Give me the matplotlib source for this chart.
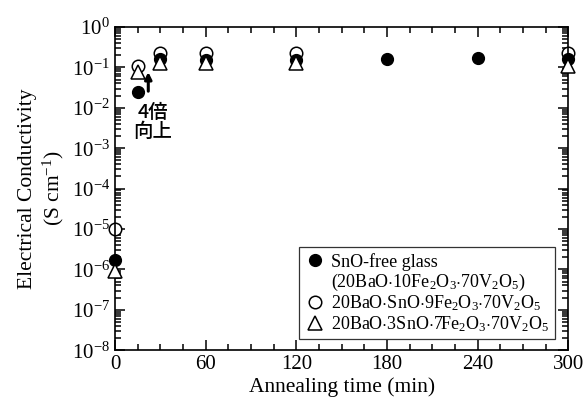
import matplotlib
matplotlib.use('Agg')
import matplotlib.pyplot as plt
from matplotlib.ticker import LogLocator, MultipleLocator, NullFormatter

# annealing time (min) and conductivity (S/cm)
t_free = [0, 15, 30, 60, 120, 180, 240, 300]
s_free = [1.7e-6, 0.025, 0.16, 0.15, 0.15, 0.165, 0.175, 0.16]

t_sno1 = [0, 15, 30, 60, 120, 300]
s_sno1 = [1.0e-5, 0.11, 0.23, 0.23, 0.23, 0.23]

t_sno3 = [0, 15, 30, 60, 120, 300]
s_sno3 = [9.0e-7, 0.075, 0.13, 0.13, 0.13, 0.11]

labels = ['SnO-free glass',
          '(20BaO$\\cdot$10Fe$_2$O$_3$$\\cdot$70V$_2$O$_5$)',
          '20BaO$\\cdot$SnO$\\cdot$9Fe$_2$O$_3$$\\cdot$70V$_2$O$_5$',
          '20BaO$\\cdot$3SnO$\\cdot$7Fe$_2$O$_3$$\\cdot$70V$_2$O$_5$']

plt.rcParams['font.family'] = ['Liberation Serif']
plt.rcParams['mathtext.fontset'] = 'custom'
plt.rcParams['mathtext.rm'] = 'Liberation Serif'
plt.rcParams['mathtext.it'] = 'Liberation Serif'
plt.rcParams['mathtext.bf'] = 'Liberation Serif'

fig = plt.figure(figsize=(5.84, 4.03), dpi=100)
ax = fig.add_axes([0.197, 0.131, 0.776, 0.802])

ax.plot(t_free, s_free, 'o', color='black', ms=8.5, label=labels[0], zorder=3, clip_on=False)
ax.plot([], [], ' ', label=labels[1])
ax.plot(t_sno1, s_sno1, 'o', mfc='white', mec='black', mew=1.1, ms=9, label=labels[2],
        zorder=2, clip_on=False)
ax.plot(t_sno3, s_sno3, '^', mfc='white', mec='black', mew=1.1, ms=9.5, label=labels[3],
        zorder=4, clip_on=False)

ax.set_yscale('log')
ax.set_ylim(1e-8, 1)
ax.set_xlim(0, 300)
ax.xaxis.set_major_locator(MultipleLocator(60))
ax.xaxis.set_minor_locator(MultipleLocator(15))
ax.yaxis.set_major_locator(LogLocator(base=10, numticks=20))
ax.yaxis.set_minor_locator(LogLocator(base=10, subs=range(2, 10), numticks=20))
ax.yaxis.set_minor_formatter(NullFormatter())
ax.tick_params(which='both', direction='in', top=True, right=True, labelsize=15, width=1.1)
ax.tick_params(which='major', length=7)
ax.tick_params(which='minor', length=4)
for sp in ax.spines.values():
    sp.set_linewidth(1.2)

ax.set_xlabel('Annealing time (min)', fontsize=15.5, labelpad=2)
ax.set_ylabel('Electrical Conductivity\n(S cm$^{-1}$)', fontsize=15.5, labelpad=4)

# arrow and note for the 15 min point
ax.annotate('', xy=(22, 0.09), xytext=(22, 0.022),
            arrowprops=dict(arrowstyle='-|>', color='black', lw=2.2, mutation_scale=10))
ax.text(25, 0.0045, '4倍\n向上', fontsize=14, ha='center', va='center', fontweight='medium',
        family=['Noto Sans CJK JP', 'DejaVu Sans'], linespacing=1.0)

leg = ax.legend(loc='lower right', bbox_to_anchor=(0.971, 0.034), fontsize=13,
                frameon=True, fancybox=False, edgecolor='black', handletextpad=0.3,
                borderpad=0.3, labelspacing=0.05, handlelength=1.2, borderaxespad=0)
leg.get_frame().set_linewidth(0.9)

fig.savefig('out.png', dpi=100)
